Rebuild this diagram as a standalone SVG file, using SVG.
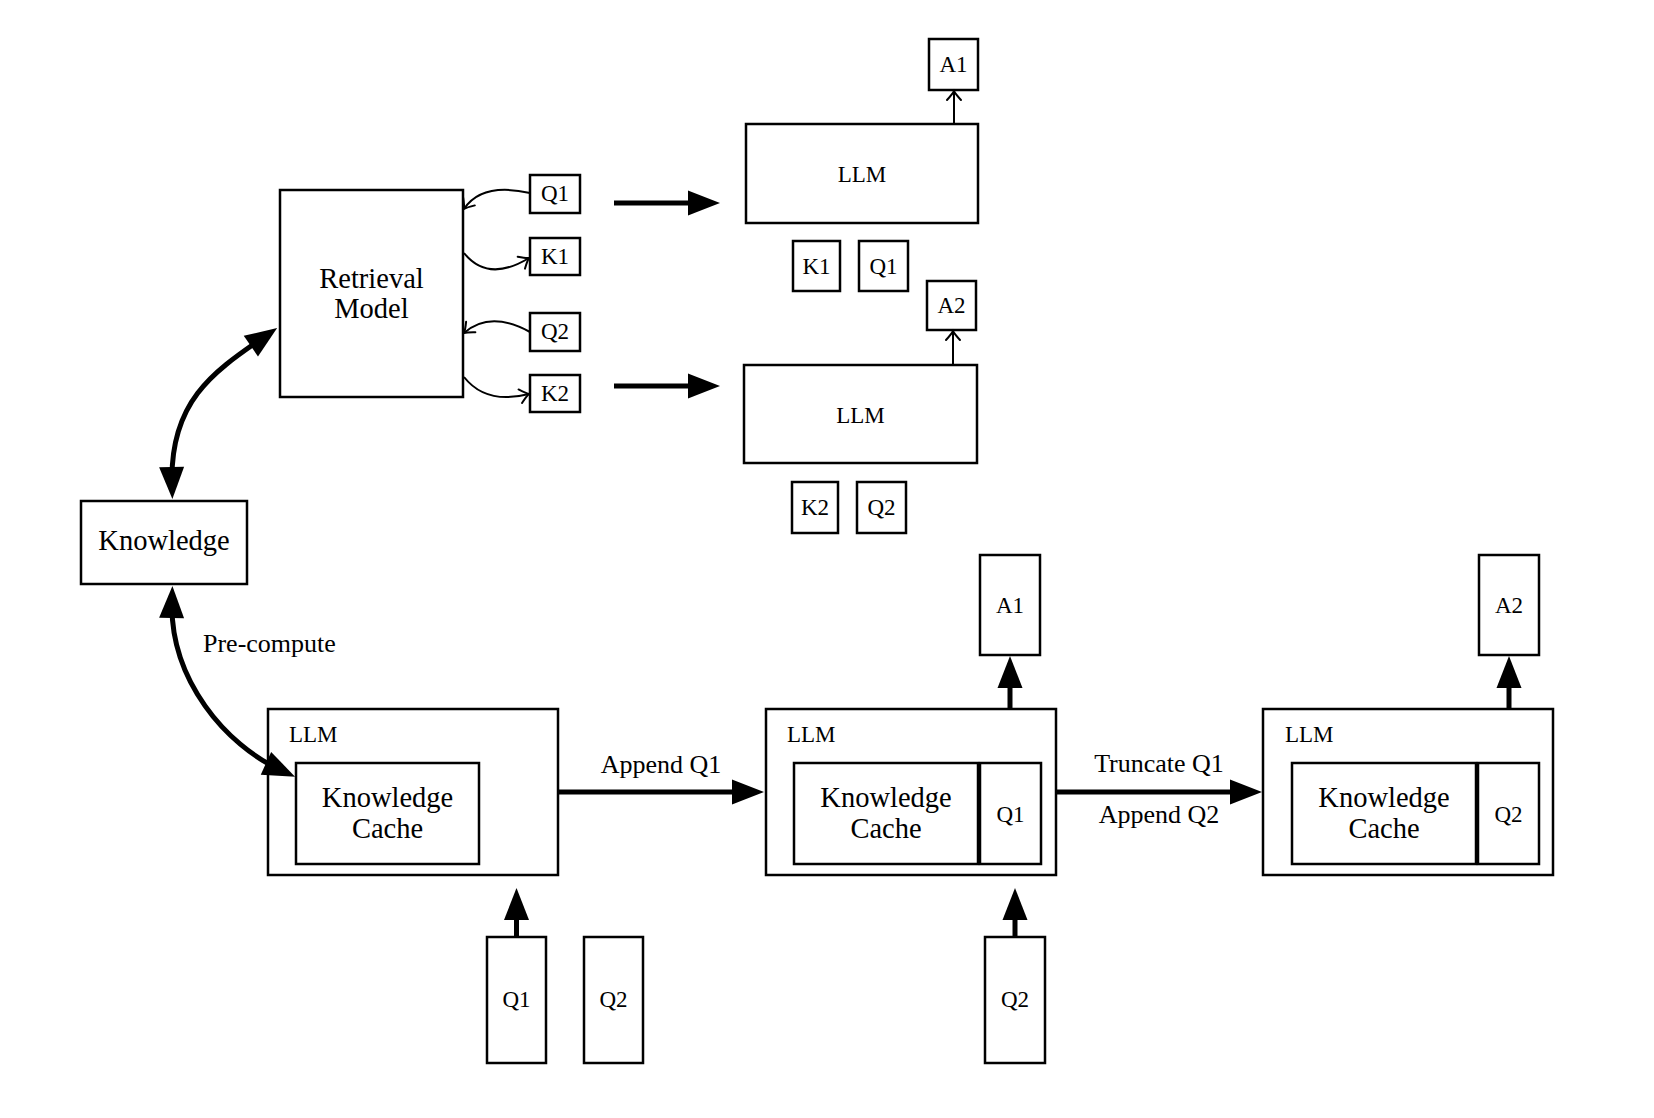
<svg xmlns="http://www.w3.org/2000/svg" width="1654" height="1118" viewBox="0 0 1654 1118">
<style>
.b{fill:#fff;stroke:#000;stroke-width:2.5}
.t{font-family:"Liberation Serif","DejaVu Serif",serif;fill:#000;text-anchor:middle}
.s{font-size:23px}
.m{font-size:26px}
.L{font-size:28.5px}
.thick{fill:none;stroke:#000;stroke-width:5}
.thin{fill:none;stroke:#000;stroke-width:2}
</style>
<defs>
<marker id="big" markerUnits="userSpaceOnUse" viewBox="-18 -13 34 26" refX="0" refY="0" markerWidth="34" markerHeight="26" orient="auto-start-reverse">
<path d="M-16,-12.5 L16,0 L-16,12.5 Z" fill="#000"/>
</marker>
<marker id="to" markerUnits="userSpaceOnUse" viewBox="-11 -9 14 18" refX="0" refY="0" markerWidth="14" markerHeight="18" orient="auto">
<path d="M-9,-7 Q-3,-1.5 0,0 Q-3,1.5 -9,7" fill="none" stroke="#000" stroke-width="2" stroke-linecap="round"/>
</marker>
</defs>
<rect width="1654" height="1118" fill="#fff"/>

<g id="retrieval"><rect class="b" x="280" y="190" width="183" height="207"/>
<text class="t L" x="371.5" y="288">Retrieval</text><text class="t L" x="371.5" y="318">Model</text></g>
<g id="q1s"><rect class="b" x="530" y="175" width="50" height="38"/><text class="t s" x="555" y="201">Q1</text></g>
<g id="k1s"><rect class="b" x="530" y="238" width="50" height="37"/><text class="t s" x="555" y="264">K1</text></g>
<g id="q2s"><rect class="b" x="530" y="313" width="50" height="38"/><text class="t s" x="555" y="339">Q2</text></g>
<g id="k2s"><rect class="b" x="530" y="375" width="50" height="37"/><text class="t s" x="555" y="401">K2</text></g>

<g id="llm1"><rect class="b" x="746" y="124" width="232" height="99"/><text class="t s" x="862" y="182">LLM</text></g>
<g id="a1s"><rect class="b" x="929" y="39" width="49" height="51"/><text class="t s" x="953.5" y="72">A1</text></g>
<g id="k1u"><rect class="b" x="793" y="241" width="47" height="50"/><text class="t s" x="816.5" y="274">K1</text></g>
<g id="q1u"><rect class="b" x="859" y="241" width="49" height="50"/><text class="t s" x="883.5" y="274">Q1</text></g>

<g id="llm2"><rect class="b" x="744" y="365" width="233" height="98"/><text class="t s" x="860.5" y="423">LLM</text></g>
<g id="a2s"><rect class="b" x="927" y="281" width="49" height="49"/><text class="t s" x="951.5" y="313">A2</text></g>
<g id="k2u"><rect class="b" x="792" y="482" width="46" height="51"/><text class="t s" x="815" y="515">K2</text></g>
<g id="q2u"><rect class="b" x="857" y="482" width="49" height="51"/><text class="t s" x="881.5" y="515">Q2</text></g>

<g id="knowledge"><rect class="b" x="81" y="501" width="166" height="83"/><text class="t L" x="164" y="550">Knowledge</text></g>

<g id="box1"><rect class="b" x="268" y="709" width="290" height="166"/>
<text class="t m" x="289" y="742" style="text-anchor:start;font-size:23px">LLM</text>
<rect class="b" x="296" y="763" width="183" height="101"/>
<text class="t L" x="387.5" y="807">Knowledge</text><text class="t L" x="387.5" y="838">Cache</text></g>

<g id="box2"><rect class="b" x="766" y="709" width="290" height="166"/>
<text class="t m" x="787" y="742" style="text-anchor:start;font-size:23px">LLM</text>
<rect class="b" x="794" y="763" width="184" height="101"/>
<text class="t L" x="886" y="807">Knowledge</text><text class="t L" x="886" y="838">Cache</text>
<rect class="b" x="980" y="763" width="61" height="101"/><text class="t s" x="1010.5" y="822">Q1</text></g>

<g id="box3"><rect class="b" x="1263" y="709" width="290" height="166"/>
<text class="t m" x="1285" y="742" style="text-anchor:start;font-size:23px">LLM</text>
<rect class="b" x="1292" y="763" width="184" height="101"/>
<text class="t L" x="1384" y="807">Knowledge</text><text class="t L" x="1384" y="838">Cache</text>
<rect class="b" x="1478" y="763" width="61" height="101"/><text class="t s" x="1508.5" y="822">Q2</text></g>

<g id="a1t"><rect class="b" x="980" y="555" width="60" height="100"/><text class="t s" x="1010" y="613">A1</text></g>
<g id="a2t"><rect class="b" x="1479" y="555" width="60" height="100"/><text class="t s" x="1509" y="613">A2</text></g>
<g id="q1t"><rect class="b" x="487" y="937" width="59" height="126"/><text class="t s" x="516.5" y="1007">Q1</text></g>
<g id="q2t"><rect class="b" x="584" y="937" width="59" height="126"/><text class="t s" x="613.5" y="1007">Q2</text></g>
<g id="q2t2"><rect class="b" x="985" y="937" width="60" height="126"/><text class="t s" x="1015" y="1007">Q2</text></g>

<g id="connectors">
<path class="thick" d="M172,483 C170,400 215,371 264,337" marker-start="url(#big)" marker-end="url(#big)"/>
<path class="thick" d="M172,602 C170,680 226,745 280.5,770" marker-start="url(#big)" marker-end="url(#big)"/>
<path class="thin" d="M530,193 Q482,182 464,209" marker-end="url(#to)"/>
<path class="thin" d="M464,253 Q488,283 529,258" marker-end="url(#to)"/>
<path class="thin" d="M530,332 Q490,310 464,333" marker-end="url(#to)"/>
<path class="thin" d="M464,377 Q486,405 529,394" marker-end="url(#to)"/>
<path class="thick" d="M614,203 H704" marker-end="url(#big)"/>
<path class="thick" d="M614,386 H704" marker-end="url(#big)"/>
<path class="thin" d="M954,124 V91" marker-end="url(#to)"/>
<path class="thin" d="M953,365 V331" marker-end="url(#to)"/>
<path class="thick" d="M558,792 H748" marker-end="url(#big)"/>
<path class="thick" d="M1056,792 H1246" marker-end="url(#big)"/>
<path class="thick" d="M1010,709 V672" marker-end="url(#big)"/>
<path class="thick" d="M1509,709 V672" marker-end="url(#big)"/>
<path class="thick" d="M516.5,937 V904" marker-end="url(#big)"/>
<path class="thick" d="M1015,937 V904" marker-end="url(#big)"/>
<text class="t m" x="661" y="773">Append Q1</text>
<text class="t m" x="1159" y="772">Truncate Q1</text>
<text class="t m" x="1159" y="823">Append Q2</text>
<text class="t m" x="203" y="652" style="text-anchor:start">Pre-compute</text>
</g>
</svg>
